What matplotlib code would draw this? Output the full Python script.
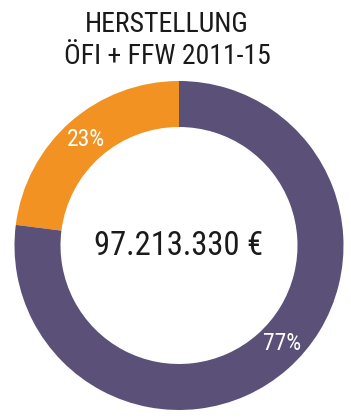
import numpy as np
import matplotlib
matplotlib.use("Agg")
import matplotlib.pyplot as plt

categories = ["ÖFI + FFW", "Rest"]
shares = [23, 77]
colors = ["#F29222", "#5A5078"]
title_lines = ["HERSTELLUNG", "ÖFI + FFW 2011-15"]
total_label = "97.213.330 €"

plt.rcParams["font.family"] = ["Roboto Condensed", "Liberation Sans Narrow", "Liberation Sans", "DejaVu Sans"]

fig = plt.figure(figsize=(3.51, 4.18), dpi=100)
ax = fig.add_axes([0, 0, 1, 1])

R = 164.5
wedges, texts, pcts = ax.pie(shares, colors=colors, startangle=90, counterclock=True, radius=R,
                             wedgeprops=dict(width=46, linewidth=0),
                             autopct="%d%%", pctdistance=0.86,
                             textprops=dict(color="white", fontsize=17))
# the big share's label sits a bit lower than mid-wedge in the original
a = np.deg2rad(316.5)
pcts[1].set_position((142 * np.cos(a), 142 * np.sin(a)))

ax.text(0, 0, total_label, ha="center", va="center", fontsize=23.5, color="#1a1a1a")

ax.set_xlim(-179, 172)
ax.set_ylim(-172.5, 245.5)
ax.set_aspect("equal")
ax.axis("off")

fig.text(0.476, 1 - 24 / 418, title_lines[0], ha="center", va="center", fontsize=20, color="#1a1a1a")
fig.text(0.476, 1 - 57 / 418, title_lines[1], ha="center", va="center", fontsize=20, color="#1a1a1a")

fig.savefig("out.png", dpi=100)
